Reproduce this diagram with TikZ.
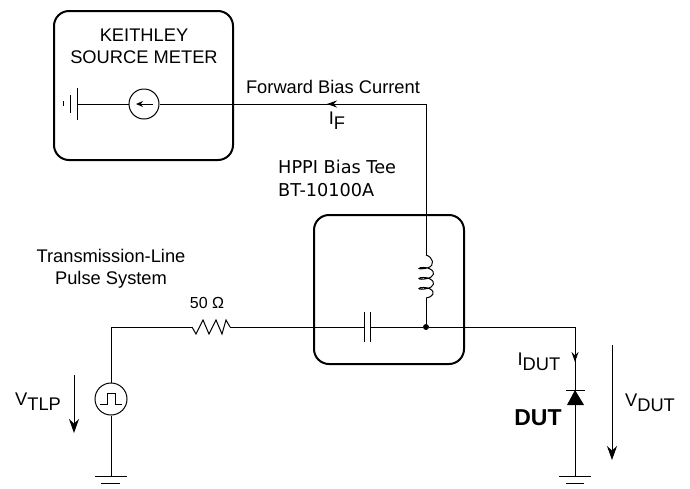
\documentclass[tikz,border=0pt]{standalone}
\usepackage{fontspec}
\setmainfont{Liberation Sans}
\newfontfamily\dejavu{DejaVu Sans}
\usetikzlibrary{arrows.meta}
\newcommand{\lowered}[1]{\raisebox{-5pt}{#1}}
\tikzset{
  wire/.style={line width=1pt},
  box/.style={line width=2pt,rounded corners=15pt},
  volt/.style={line width=1pt,-{Stealth[length=14pt,width=10pt]}},
  tick/.style={line width=1pt,-{Stealth[length=10pt,width=7pt]}},
  lbl/.style={font=\fontsize{18.3}{22}\selectfont,align=center,inner sep=0pt},
  dot/.style={circle,fill=black,inner sep=0pt,minimum size=6pt},
  src/.style={circle,draw,line width=1pt,inner sep=0pt},
}
\begin{document}
\begin{tikzpicture}[x=1pt,y=-1pt]
\useasboundingbox (0,0) rectangle (690,488);
\draw[box] (54,11) rectangle (233,160);
\draw[box] (314,215) rectangle (464,364);

\node[lbl] (keithley) at (144,46) {KEITHLEY\\SOURCE METER};
\node[lbl] (forward) at (333,87) {Forward Bias Current};
\node[lbl] (iflabel) at (337,121) {I\lowered{F}};
\node[lbl,align=left,anchor=west,font=\dejavu\fontsize{17.7}{23}\selectfont] (hppi) at (278,178) {HPPI Bias Tee\\BT-10100A};
\node[lbl] (tlpsys) at (111,269) {Transmission-Line\\Pulse System};
\node[lbl,font=\fontsize{16}{19}\selectfont] (ohm) at (207,303) {50 Ω};
\node[lbl] (vtlp) at (38,402) {V\lowered{TLP}};
\node[lbl] (idut) at (539,362) {I\lowered{DUT}};
\node[lbl] (vdut) at (650,403) {V\lowered{DUT}};
\node[lbl,font=\fontsize{23}{26}\bfseries\selectfont] (dutlabel) at (538,418) {DUT};

% source meter
\node[src,minimum size=30pt] (meter) at (144,104) {};
\coordinate (gndm) at (77,104);
\coordinate (corner) at (426,104);
\draw[wire] (gndm) -- (meter);
\draw[wire] (meter) -- (corner);
\draw[wire] (gndm) ++(0,-16) -- ++(0,32);
\draw[wire] (70,95) -- (70,113);
\draw[wire] (63,101) -- (63,106);
\draw[line width=1pt,-{Stealth[length=7pt,width=6pt]}] (153,104) -- (136,104);
\draw[tick] (340,104) -- (327,104);

% bias tee
\node[dot] (tee) at (426,327) {};
\coordinate (coiltop) at (426,255);
\coordinate (coilbot) at (426,298);
\draw[wire] (corner) -- (coiltop);
\draw[wire] (coiltop) .. controls (433,257) and (436,266) .. (427,268)
  .. controls (423,269) and (419,269) .. (419,268.5)
  .. controls (419,267) and (428,267) .. (430,269)
  .. controls (436,272) and (434,277) .. (427,278.5)
  .. controls (423,279.5) and (419,279.5) .. (419,278.5)
  .. controls (419,277) and (428,277) .. (430,279)
  .. controls (436,282) and (434,287) .. (427,288.5)
  .. controls (423,289.5) and (419,289.5) .. (419,288.5)
  .. controls (419,287) and (428,287) .. (430,289)
  .. controls (436,292) and (433,297) .. (426,298);
\draw[wire] (coilbot) -- (tee);

% tlp line
\node[src,minimum size=32pt] (tlp) at (111,399) {};
\coordinate (tlpcorner) at (111,327);
\coordinate (resl) at (192,327);
\coordinate (resr) at (230,327);
\coordinate (capl) at (364,327);
\coordinate (capr) at (370,327);
\coordinate (gndt) at (111,476);
\draw[wire] (tlp) -- (tlpcorner) -- (resl);
\draw[wire] (resl) -- (196,334) -- (203,320) -- (209,334) -- (216,320) -- (222,334) -- (226,320) -- (resr);
\draw[wire] (resr) -- (capl);
\draw[wire] (capr) -- (tee);
\draw[wire] (capl) ++(0,-15) -- ++(0,30);
\draw[wire] (capr) ++(0,-15) -- ++(0,30);
\draw[wire] (tlp) -- (gndt);
\draw[wire] (95,476) -- (127,476);
\draw[wire] (101,483) -- (120,483);
\draw[wire] (100,404) -- (107,404) -- (107,393) -- (115,393) -- (115,404) -- (122,404);
\draw[volt] (74,375) -- (74,433);

% dut
\coordinate (dutcorner) at (575,327);
\coordinate (dutgnd) at (575,476);
\draw[wire] (tee) -- (dutcorner) -- (dutgnd);
\draw[tick] (575,350) -- (575,362);
\draw[wire] (566,390) -- (585,390);
\fill (575,390) -- (584,405) -- (567,405) -- cycle;
\draw[wire] (559,476) -- (591,476);
\draw[wire] (566,483) -- (584,483);
\draw[volt] (612,345) -- (612,460);
\end{tikzpicture}
\end{document}
